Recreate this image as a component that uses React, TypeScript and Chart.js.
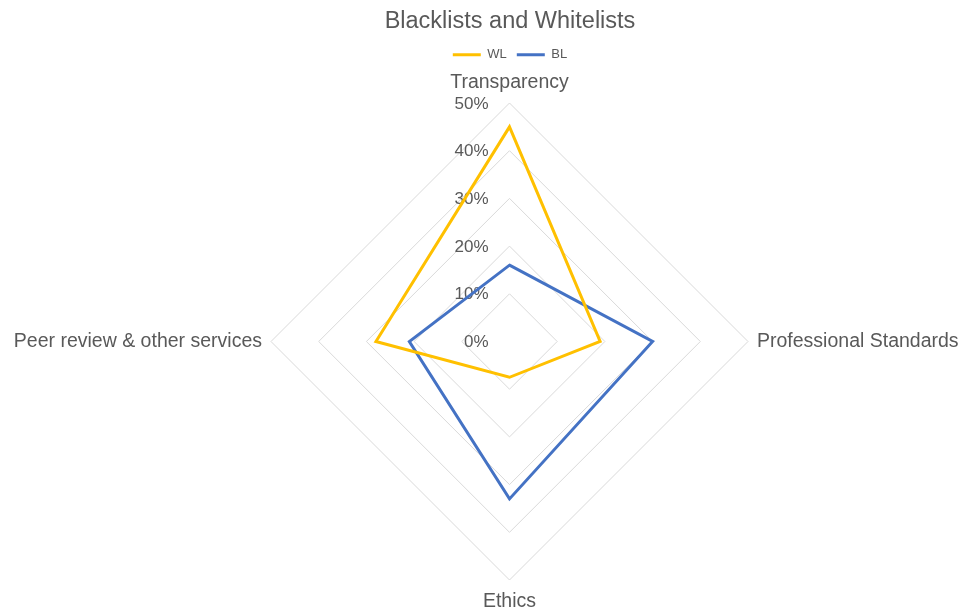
import React, { useEffect, useRef } from 'react';
import { Chart, registerables } from 'chart.js';

Chart.register(...registerables);

const CATEGORIES = ['Transparency', 'Professional Standards', 'Ethics', 'Peer review & other services'];
const WL_VALUES = [45, 19, 7.5, 28];
const BL_VALUES = [16, 30, 33, 21];
const TICK_VALUES = [0, 10, 20, 30, 40, 50];
const TICK_LABELS = ['0%', '10%', '20%', '30%', '40%', '50%'];

const TEXT_COLOR = '#595959';
const FONT = '"Liberation Sans", Arial, sans-serif';

const radarTextPlugin = {
  id: 'radarText',
  beforeDatasetsDraw(chart: any) {
    const s = chart.scales.r;
    const ctx = chart.ctx;
    ctx.save();
    ctx.fillStyle = TEXT_COLOR;
    ctx.font = `17px ${FONT}`;
    ctx.textAlign = 'right';
    ctx.textBaseline = 'middle';
    TICK_VALUES.forEach((v, i) => {
      const d = s.getDistanceFromCenterForValue(v);
      ctx.fillText(TICK_LABELS[i], s.xCenter - 21, s.yCenter - d + 1);
    });
    ctx.font = `19.5px ${FONT}`;
    CATEGORIES.forEach((c, i) => {
      const probe = s.getPointPosition(i, s.drawingArea);
      const cos = Math.cos(probe.angle);
      const sin = Math.sin(probe.angle);
      const vertical = Math.abs(cos) < 0.1;
      const pad = vertical ? (sin < 0 ? 11 : 12) : 9;
      const p = s.getPointPosition(i, s.drawingArea + pad);
      ctx.textAlign = vertical ? 'center' : cos > 0 ? 'left' : 'right';
      ctx.textBaseline = Math.abs(sin) < 0.1 ? 'middle' : sin > 0 ? 'top' : 'bottom';
      ctx.fillText(c, p.x, p.y);
    });
    ctx.restore();
  },
};

export default function App() {
  const canvasRef = useRef<HTMLCanvasElement | null>(null);

  useEffect(() => {
    document.body.style.margin = '0';
    const canvas = canvasRef.current;
    if (!canvas) return;
    const chart = new Chart(canvas, {
      type: 'radar',
      data: {
        labels: CATEGORIES,
        datasets: [
          {
            label: 'WL',
            data: WL_VALUES,
            borderColor: '#FFC000',
            backgroundColor: '#FFC000',
            borderWidth: 3,
            pointRadius: 0,
            pointHoverRadius: 0,
            fill: false,
            borderJoinStyle: 'miter',
          },
          {
            label: 'BL',
            data: BL_VALUES,
            borderColor: '#4472C4',
            backgroundColor: '#4472C4',
            borderWidth: 3,
            pointRadius: 0,
            pointHoverRadius: 0,
            fill: false,
            borderJoinStyle: 'miter',
          },
        ],
      },
      options: {
        animation: false,
        responsive: true,
        maintainAspectRatio: false,
        layout: { padding: { left: 60, right: 0, top: 0, bottom: 29 } },
        plugins: {
          title: {
            display: true,
            text: 'Blacklists and Whitelists',
            color: TEXT_COLOR,
            font: { family: FONT, size: 23.5, weight: 'normal' },
            padding: { top: 7, bottom: 3 },
          },
          legend: {
            display: true,
            position: 'top',
            labels: {
              color: TEXT_COLOR,
              font: { family: FONT, size: 13 },
              boxWidth: 28,
              boxHeight: 3,
              padding: 10,
              generateLabels: (c: any) =>
                (Chart.defaults.plugins.legend.labels.generateLabels as any)(c).map((l: any) => ({
                  ...l,
                  lineWidth: 0,
                })),
            },
          },
          tooltip: { enabled: false },
        },
        scales: {
          r: {
            min: 0,
            max: 50,
            ticks: { stepSize: 10, display: false },
            grid: { color: '#d9d9d9', lineWidth: 1, circular: false },
            angleLines: { display: false },
            pointLabels: { display: false },
            afterFit: (s: any) => {
              s.xCenter = 509.5;
              s.yCenter = 341.5;
              s.drawingArea = 238.5;
            },
          },
        },
      } as any,
      plugins: [radarTextPlugin],
    });
    return () => chart.destroy();
  }, []);

  return (
    <div style={{ width: 960, height: 609, position: 'relative', background: '#ffffff' }}>
      <canvas ref={canvasRef} />
    </div>
  );
}
